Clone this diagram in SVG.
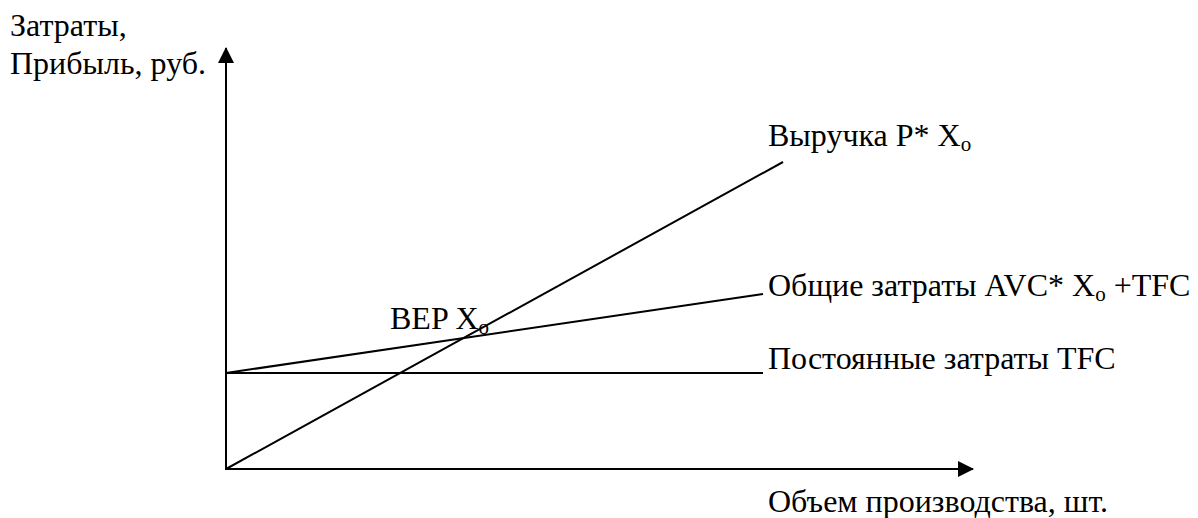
<svg xmlns="http://www.w3.org/2000/svg" width="1198" height="518" viewBox="0 0 1198 518">
  <style>
    text { font-family: 'Liberation Serif', 'Times New Roman', Times, 'DejaVu Serif', serif; font-size: 32px; fill: #000; }
    .sub { font-size: 21px; }
    .ln { stroke: #000; stroke-width: 2; fill: none; }
  </style>
  <defs>
    <marker id="arr" markerWidth="16" markerHeight="16" refX="15" refY="8" orient="auto" markerUnits="userSpaceOnUse">
      <polygon points="0,0 16,8 0,16" fill="#000"/>
    </marker>
  </defs>
  <rect width="1198" height="518" fill="#fff"/>
  <g id="connectors">
    <line id="y-axis" class="ln" x1="226" y1="470" x2="226" y2="48" marker-end="url(#arr)"/>
    <line id="x-axis" class="ln" x1="225" y1="469" x2="973" y2="469" marker-end="url(#arr)"/>
    <line id="revenue" class="ln" x1="226" y1="469" x2="783" y2="162"/>
    <line id="total-cost" class="ln" x1="226" y1="373" x2="763" y2="294"/>
    <line id="fixed-cost" class="ln" x1="226" y1="373" x2="763" y2="373"/>
  </g>
  <g id="y-label">
    <text font-family="Liberation Serif, serif" x="10" y="36">Затраты,</text>
    <text font-family="Liberation Serif, serif" x="10" y="74">Прибыль, руб.</text>
  </g>
  <g id="revenue-label">
    <text x="768" y="146">Выручка P* X<tspan class="sub" dy="5">o</tspan></text>
  </g>
  <g id="total-cost-label">
    <text x="768" y="296">Общие затраты AVC* X<tspan class="sub" dy="5">o</tspan><tspan dy="-5"> +TFC</tspan></text>
  </g>
  <g id="fixed-cost-label">
    <text x="768" y="369">Постоянные затраты TFC</text>
  </g>
  <g id="bep-label">
    <text x="390" y="329">BEP X<tspan class="sub" dy="5">o</tspan></text>
  </g>
  <g id="x-label">
    <text x="768" y="512">Объем производства, шт.</text>
  </g>
</svg>
